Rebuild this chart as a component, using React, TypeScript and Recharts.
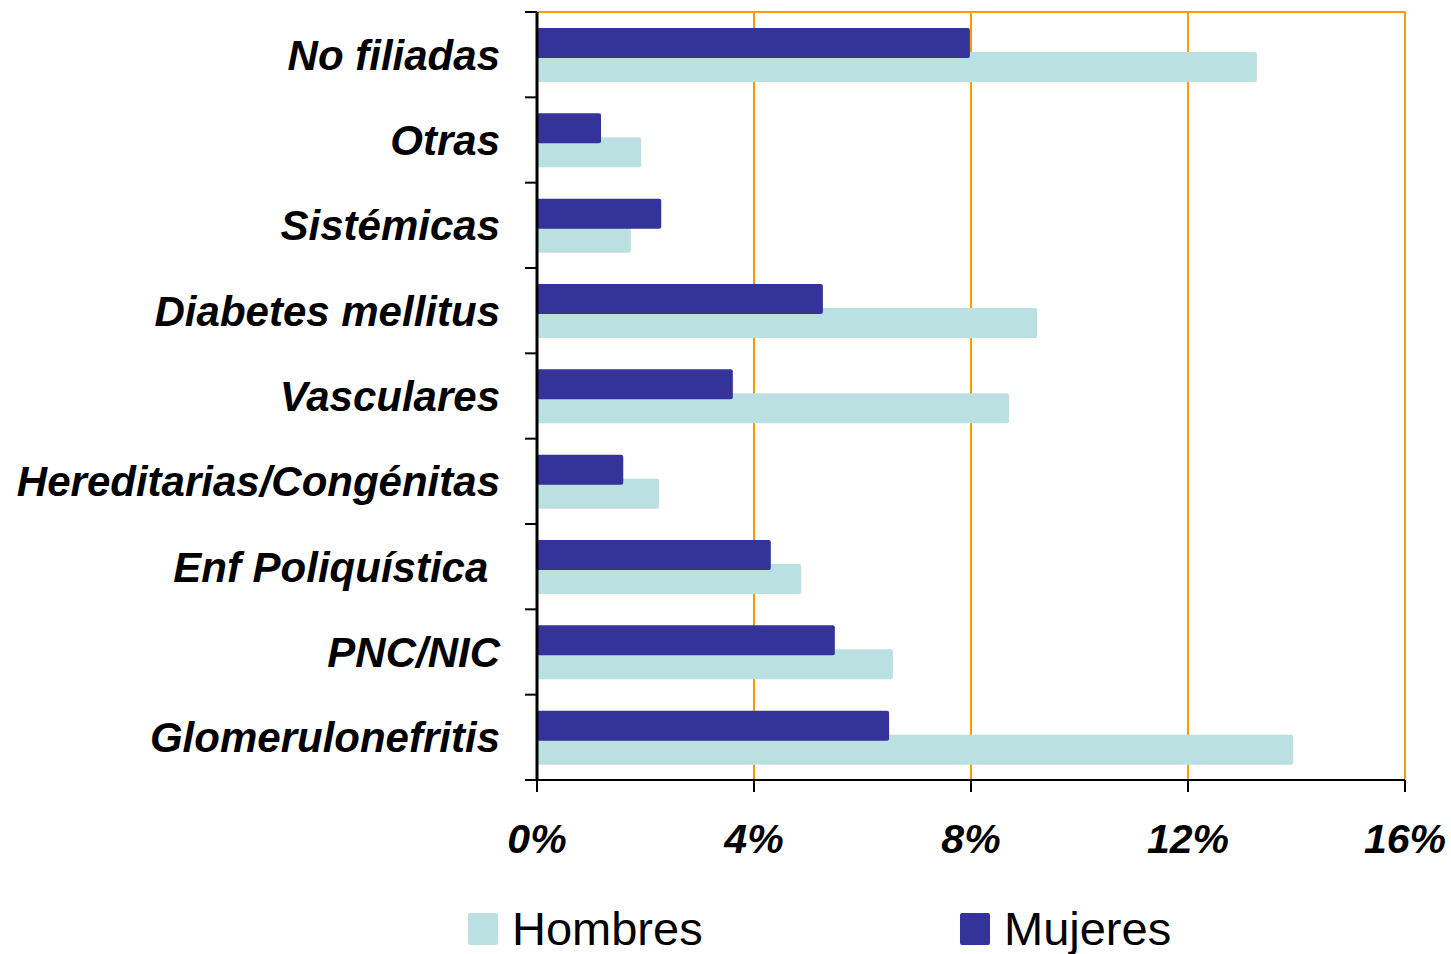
import { Bar, BarChart, CartesianGrid, XAxis, YAxis } from "recharts";

const categories = [
  "No filiadas",
  "Otras",
  "Sistémicas",
  "Diabetes mellitus",
  "Vasculares",
  "Hereditarias/Congénitas",
  "Enf Poliquística ",
  "PNC/NIC",
  "Glomerulonefritis",
];
const hombres = [13.27, 1.92, 1.73, 9.22, 8.7, 2.25, 4.87, 6.56, 13.94];
const mujeres = [7.98, 1.18, 2.29, 5.27, 3.61, 1.59, 4.31, 5.49, 6.49];
const xTicks = [0, 4, 8, 12, 16];

const HOMBRES_COLOR = "#BAE0E2";
const MUJERES_COLOR = "#333399";
const GRID_COLOR = "#FF9900";
const FONT = "'Liberation Sans', Arial, sans-serif";

const W = 1451;
const H = 954;
const PLOT_TOP = 12;
const PLOT_BOTTOM = 780;
const AXIS_X = 537;
const TICK = 12;
const HALF_BAND = (PLOT_BOTTOM - PLOT_TOP) / categories.length / 2;

const data = categories.map((name, i) => ({
  name,
  hombres: hombres[i],
  mujeres: mujeres[i],
}));

function CategoryTick(props: any) {
  const { x, y, payload, index } = props;
  const last = index === categories.length - 1;
  return (
    <g>
      <line x1={AXIS_X - TICK} x2={AXIS_X} y1={y - HALF_BAND} y2={y - HALF_BAND} stroke="#000" strokeWidth={2} />
      {last && (
        <line x1={AXIS_X - TICK} x2={AXIS_X} y1={y + HALF_BAND} y2={y + HALF_BAND} stroke="#000" strokeWidth={2} />
      )}
      <text
        x={x}
        y={y}
        dy="0.36em"
        textAnchor="end"
        fill="#000"
        style={{ fontFamily: FONT, fontSize: 42, fontWeight: 700, fontStyle: "italic", whiteSpace: "pre" }}
      >
        {payload.value}
      </text>
    </g>
  );
}

const legendItems = [
  { label: "Hombres", color: HOMBRES_COLOR, left: 468 },
  { label: "Mujeres", color: MUJERES_COLOR, left: 960 },
];

export default function App() {
  return (
    <div style={{ position: "absolute", left: 0, top: 0, width: W, height: H, background: "#fff" }}>
      <BarChart
        width={W}
        height={H}
        data={data}
        layout="vertical"
        barGap={-54}
        margin={{ top: PLOT_TOP, right: W - 1405, left: 0, bottom: 0 }}
      >
        <CartesianGrid
          stroke={GRID_COLOR}
          strokeWidth={2}
          vertical={true}
          horizontal={true}
          horizontalPoints={[PLOT_TOP]}
        />
        <XAxis
          type="number"
          domain={[0, 16]}
          ticks={xTicks}
          tickFormatter={(v: number) => `${v}%`}
          height={H - PLOT_BOTTOM}
          axisLine={{ stroke: "#000", strokeWidth: 2 }}
          tickLine={{ stroke: "#000", strokeWidth: 2 }}
          tickSize={TICK}
          tickMargin={32}
          tick={{ fill: "#000", fontSize: 41, fontWeight: 700, fontStyle: "italic", fontFamily: FONT }}
        />
        <YAxis
          type="category"
          dataKey="name"
          width={AXIS_X}
          axisLine={{ stroke: "#000", strokeWidth: 3 }}
          tickLine={false}
          tickSize={TICK}
          tickMargin={25}
          interval={0}
          tick={<CategoryTick />}
        />
        <Bar dataKey="hombres" name="Hombres" fill={HOMBRES_COLOR} barSize={30} radius={2} isAnimationActive={false} />
        <Bar dataKey="mujeres" name="Mujeres" fill={MUJERES_COLOR} barSize={30} radius={2} isAnimationActive={false} />
      </BarChart>
      {legendItems.map((item) => (
        <div key={item.label} style={{ position: "absolute", left: item.left, top: 905, height: 47, display: "flex" }}>
          <div style={{ width: 30, height: 32, marginTop: 8, background: item.color, borderRadius: 2 }} />
          <span style={{ marginLeft: 14, fontFamily: FONT, fontSize: 47, lineHeight: "47px", color: "#000" }}>
            {item.label}
          </span>
        </div>
      ))}
    </div>
  );
}
